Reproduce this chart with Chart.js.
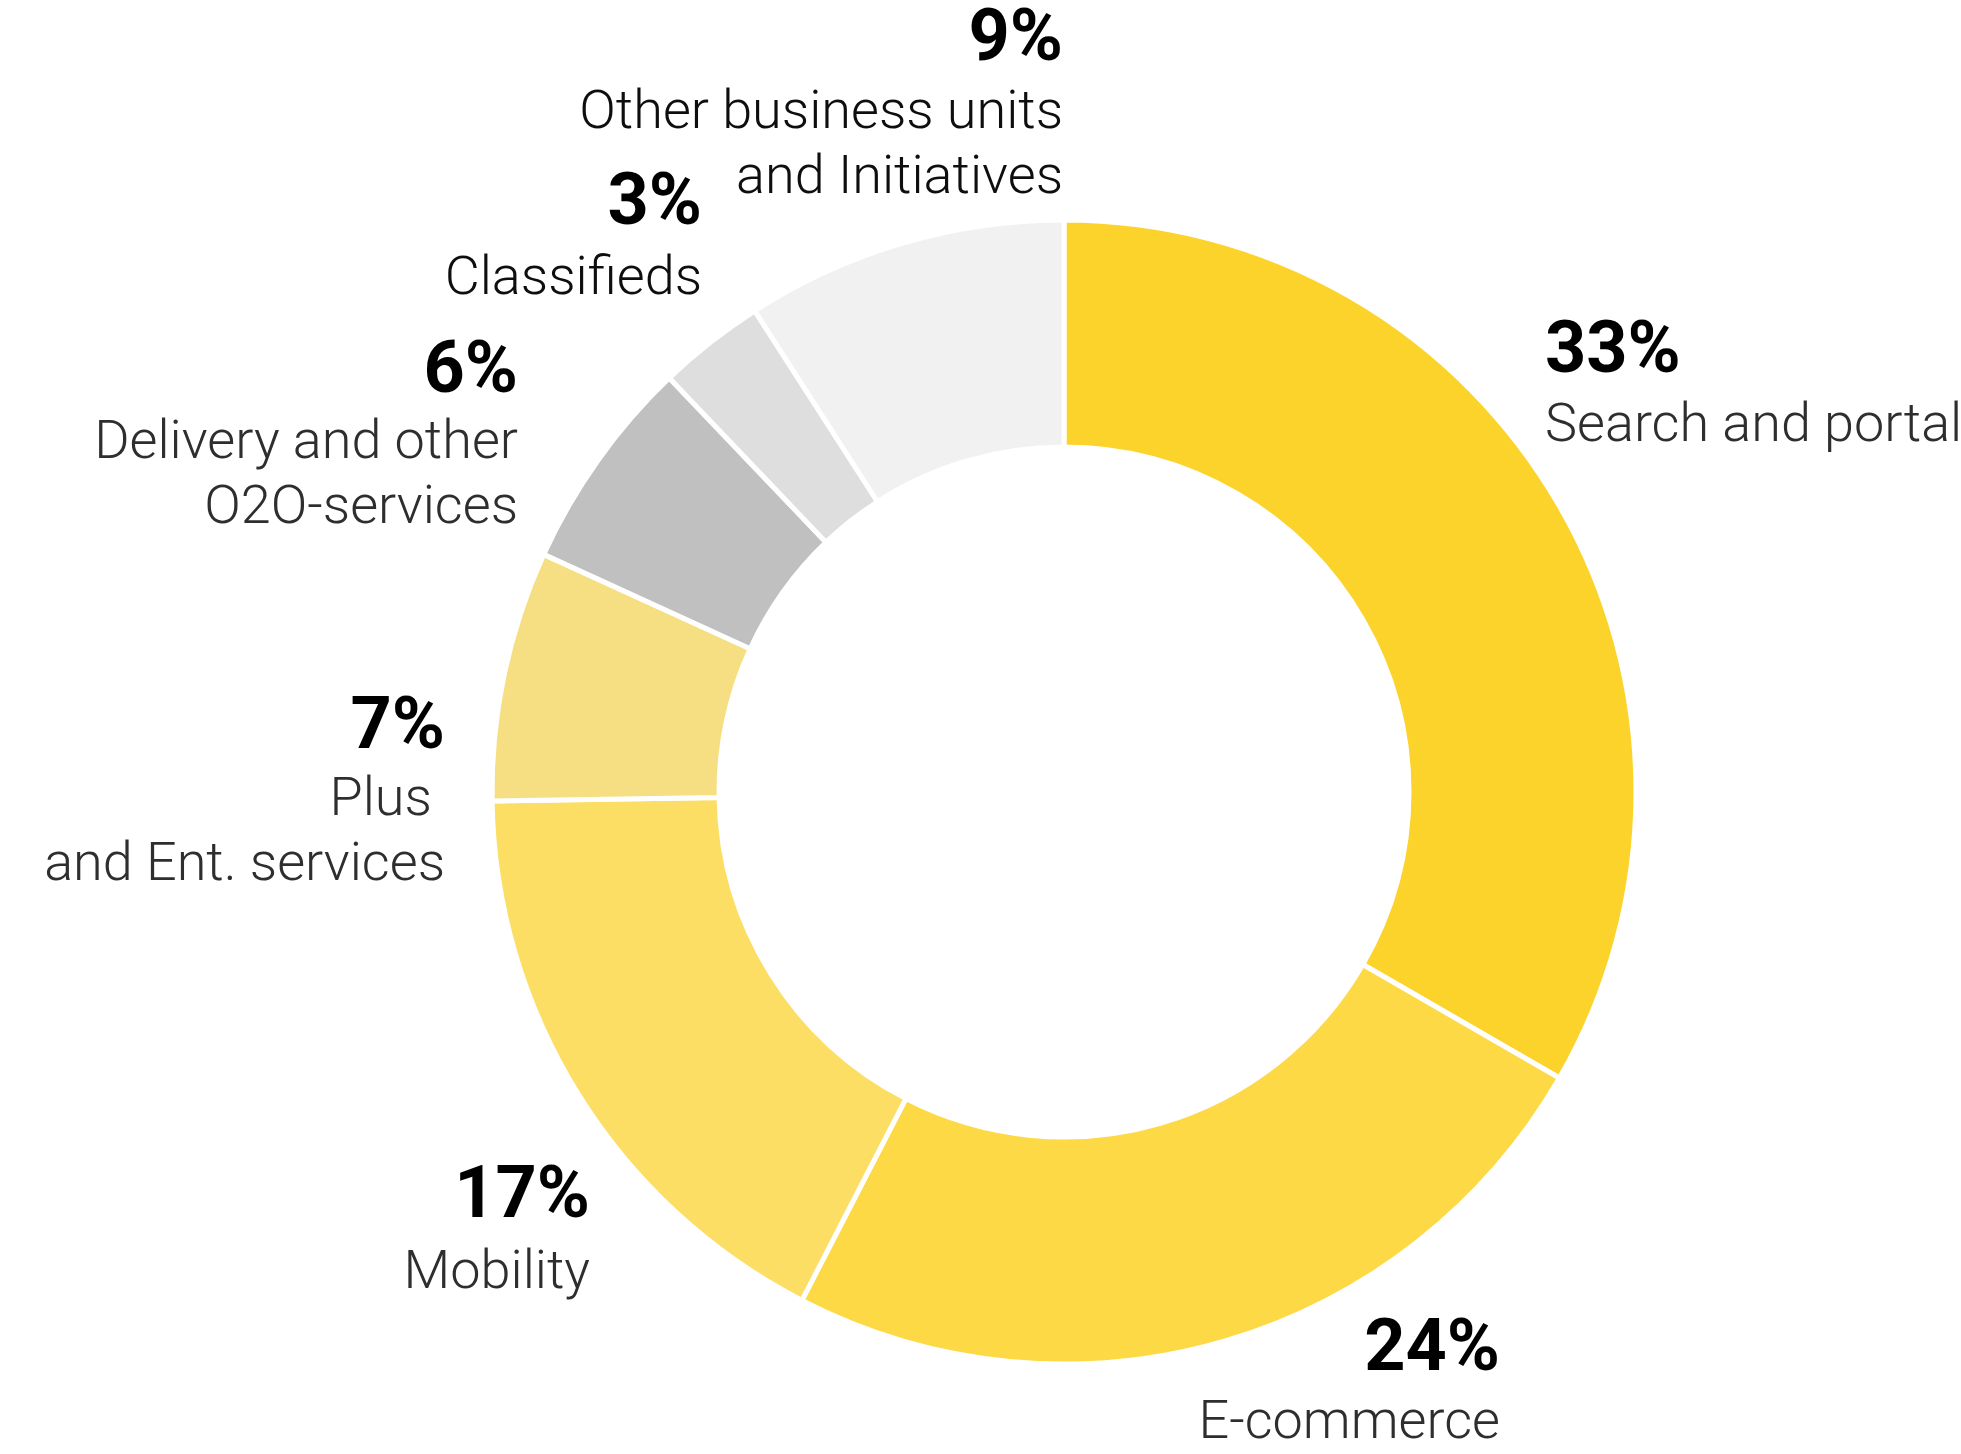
<!DOCTYPE html>
<html>
<head>
<meta charset="utf-8">
<script src="https://cdn.jsdelivr.net/npm/chart.js@4/dist/chart.umd.min.js"></script>
<style>
  html, body { margin: 0; padding: 0; background: #ffffff; }
  #wrap { position: relative; width: 1961px; height: 1454px; }
</style>
</head>
<body>
<div id="wrap"><canvas id="revenue"></canvas></div>
<script>
// Revenue structure by segment, %
const categories = [
  'Search and portal',
  'E-commerce',
  'Mobility',
  'Plus and Ent. services',
  'Delivery and other O2O-services',
  'Classifieds',
  'Other business units and Initiatives'
];
const shares = [33, 24, 17, 7, 6, 3, 9];
const labelLines = [
  ['Search and portal'],
  ['E-commerce'],
  ['Mobility'],
  ['Plus ', 'and Ent. services'],
  ['Delivery and other', 'O2O-services'],
  ['Classifieds'],
  ['Other business units', 'and Initiatives']
];

const sliceColors = ['#FCD32B', '#FED946', '#FDDE64', '#F6DF82', '#C0C0C0', '#DEDEDE', '#F1F1F1'];

// Label placement relative to the ring centre (px): text alignment, x of the aligned edge,
// baselines of the percentage and of each caption line.
const labelPlacement = [
  { align: 'left',  dx: 481,  ys: [-420, -351] },
  { align: 'right', dx: 436,  ys: [578, 646] },
  { align: 'right', dx: -474, ys: [425, 496] },
  { align: 'right', dx: -619, ys: [-44, 23, 88] },
  { align: 'right', dx: -546, ys: [-400, -334, -269] },
  { align: 'right', dx: -362, ys: [-568, -498] },
  { align: 'right', dx: -1,   ys: [-732, -664, -599] }
];
const captionColors = ['#2e2e2e', '#2e2e2e', '#2e2e2e', '#2e2e2e', '#2e2e2e', '#0e0e0e', '#0e0e0e'];

const OUTER = 572;
const INNER = 345;

const sliceLabels = {
  id: 'sliceLabels',
  afterDatasetsDraw(chart) {
    const ctx = chart.ctx;
    const arcs = chart.getDatasetMeta(0).data;
    if (!arcs.length) return;
    const cx = arcs[0].x, cy = arcs[0].y;
    ctx.save();
    ctx.textBaseline = 'alphabetic';
    shares.forEach((v, i) => {
      const p = labelPlacement[i];
      const x = cx + p.dx;
      ctx.textAlign = p.align;
      ctx.fillStyle = '#000000';
      ctx.font = 'bold 72px Roboto';
      ctx.fillText(v + '%', x, cy + p.ys[0]);
      ctx.fillStyle = captionColors[i];
      ctx.font = '300 54px Roboto';
      labelLines[i].forEach((line, k) => {
        ctx.fillText(line, x, cy + p.ys[k + 1]);
      });
    });
    ctx.restore();
  }
};

new Chart(document.getElementById('revenue'), {
  type: 'doughnut',
  data: {
    labels: categories,
    datasets: [{
      data: shares,
      backgroundColor: sliceColors,
      borderColor: '#ffffff',
      borderWidth: 5,
      hoverOffset: 0
    }]
  },
  options: {
    responsive: true,
    maintainAspectRatio: false,
    animation: false,
    radius: OUTER,
    cutout: (INNER / OUTER * 100) + '%',
    layout: { padding: { left: 167, top: 130, right: 0, bottom: 0 } },
    plugins: {
      legend: { display: false },
      tooltip: { enabled: false }
    }
  },
  plugins: [sliceLabels]
});
</script>
</body>
</html>
